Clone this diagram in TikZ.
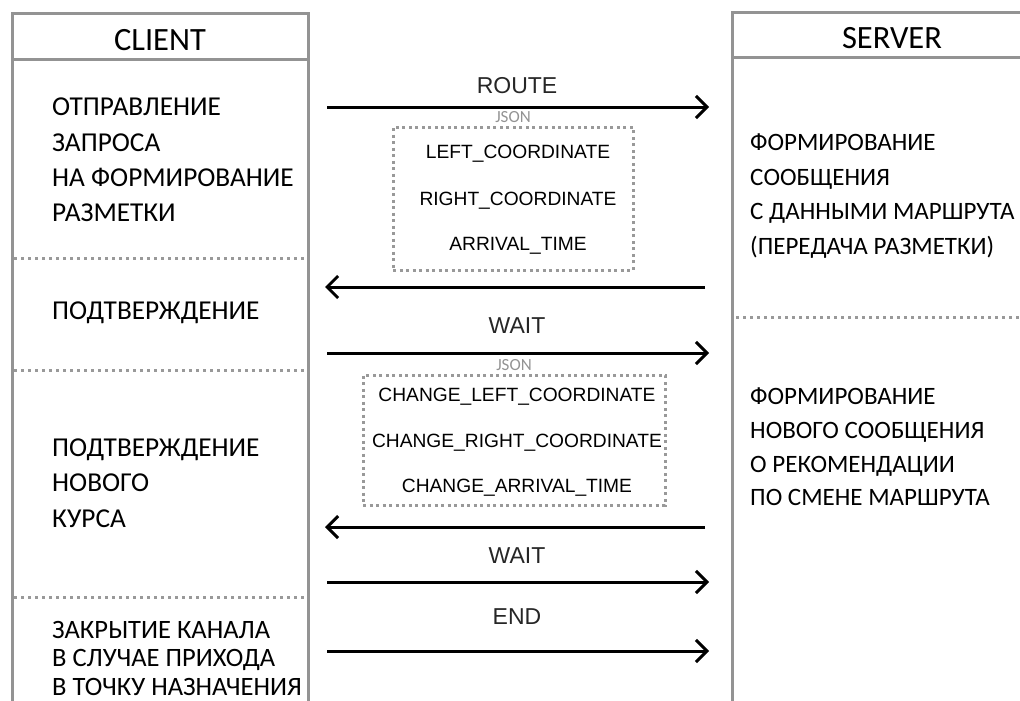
\documentclass[tikz,border=0pt]{standalone}
\usepackage{fontspec}
\setmainfont{Carlito}
\newfontfamily\arialfont{Liberation Sans}
\usetikzlibrary{arrows.meta}

\begin{document}
\begin{tikzpicture}[
  x=1pt, y=-1pt,
  column/.style={
    draw=gray!85,
    line width=3pt,
  },
  separator/.style={
    draw=gray!80,
    line width=3pt,
    dash pattern=on 3pt off 4pt,
  },
  jsonbox/.style={
    draw=gray!80,
    line width=3pt,
    dash pattern=on 3pt off 3.5pt,
    rectangle,
    inner sep=0pt,
  },
  msg/.style={
    draw,
    line width=3pt,
    -{Straight Barb[length=11pt,width=22pt]},
  },
  header/.style={
    font=\fontsize{32.5}{38}\selectfont,
    inner sep=0pt,
  },
  step text/.style={
    font=\fontsize{27.3}{35.3}\selectfont,
    align=left,
    anchor=west,
    inner sep=0pt,
  },
  msglabel/.style={
    font=\arialfont\fontsize{23}{27}\selectfont,
    text=black!85,
    inner sep=0pt,
  },
  field/.style={
    font=\arialfont\fontsize{19.2}{23}\selectfont,
    inner sep=0pt,
  },
  jsonlabel/.style={
    font=\fontsize{17}{20}\selectfont,
    text=gray!85,
    inner sep=0pt,
  },
]
\useasboundingbox (0,0) rectangle (1020,701);

% Client column
\draw[column] (12,701) |- (308,14) -- (308,701);
\draw[column] (12,60) -- (308,60);
\node[header] (client) at (160,40) {CLIENT};
\draw[separator] (14,258) -- (306,258);
\draw[separator] (14,370) -- (306,370);
\draw[separator] (14,597) -- (306,597);

% Server column
\draw[column] (732,701) |- (1022,13);
\draw[column] (732,58) -- (1022,58);
\node[header] (server) at (892,38) {SERVER};
\draw[separator] (736,317) -- (1020,317);

% Client steps
\node[step text] (send) at (52,160)
  {ОТПРАВЛЕНИЕ\\ЗАПРОСА\\НА ФОРМИРОВАНИЕ\\РАЗМЕТКИ};
\node[step text] (ack) at (52,313) {ПОДТВЕРЖДЕНИЕ};
\node[step text] (ackcourse) at (52,483)
  {ПОДТВЕРЖДЕНИЕ\\НОВОГО\\КУРСА};
\node[step text, font=\fontsize{26.5}{28.5}\selectfont] (close) at (52,658)
  {ЗАКРЫТИЕ КАНАЛА\\В СЛУЧАЕ ПРИХОДА\\В ТОЧКУ НАЗНАЧЕНИЯ};

% Server steps
\node[step text, font=\fontsize{25}{34.5}\selectfont] (route) at (750,196)
  {ФОРМИРОВАНИЕ\\СООБЩЕНИЯ\\С ДАННЫМИ МАРШРУТА\\(ПЕРЕДАЧА РАЗМЕТКИ)};
\node[step text, font=\fontsize{25}{33.7}\selectfont] (advice) at (750,447)
  {ФОРМИРОВАНИЕ\\НОВОГО СООБЩЕНИЯ\\О РЕКОМЕНДАЦИИ\\ПО СМЕНЕ МАРШРУТА};

% Message end points
\coordinate (c1) at (327,107);  \coordinate (s1) at (709,107);
\coordinate (c2) at (325,287);  \coordinate (s2) at (705,287);
\coordinate (c3) at (327,353);  \coordinate (s3) at (709,353);
\coordinate (c4) at (325,527);  \coordinate (s4) at (705,527);
\coordinate (c5) at (327,582);  \coordinate (s5) at (709,582);
\coordinate (c6) at (327,651);  \coordinate (s6) at (709,651);

% Messages
\draw[msg] (c1) -- (s1);
\draw[msg] (s2) -- (c2);
\draw[msg] (c3) -- (s3);
\draw[msg] (s4) -- (c4);
\draw[msg] (c5) -- (s5);
\draw[msg] (c6) -- (s6);
\node[msglabel] (routelbl) at (517,86) {ROUTE};
\node[msglabel] (wait1) at (517,326) {WAIT};
\node[msglabel] (wait2) at (517,556) {WAIT};
\node[msglabel] (endlbl) at (517,617) {END};

% JSON payloads
\node[jsonbox, minimum width=240pt, minimum height=143pt] (json1) at (513,198.5) {};
\node[jsonlabel, anchor=south] (json1lbl) at ([yshift=3pt]json1.north) {JSON};
\node[field] (left) at (518,154) {LEFT\_COORDINATE};
\node[field] (right) at (518,201) {RIGHT\_COORDINATE};
\node[field] (arrival) at (518,246) {ARRIVAL\_TIME};

\node[jsonbox, minimum width=302pt, minimum height=130pt] (json2) at (514,440) {};
\node[jsonlabel, anchor=south] (json2lbl) at ([yshift=3pt]json2.north) {JSON};
\node[field] (chleft) at (517,397) {CHANGE\_LEFT\_COORDINATE};
\node[field] (chright) at (517,443) {CHANGE\_RIGHT\_COORDINATE};
\node[field] (charrival) at (517,488) {CHANGE\_ARRIVAL\_TIME};

\end{tikzpicture}
\end{document}
